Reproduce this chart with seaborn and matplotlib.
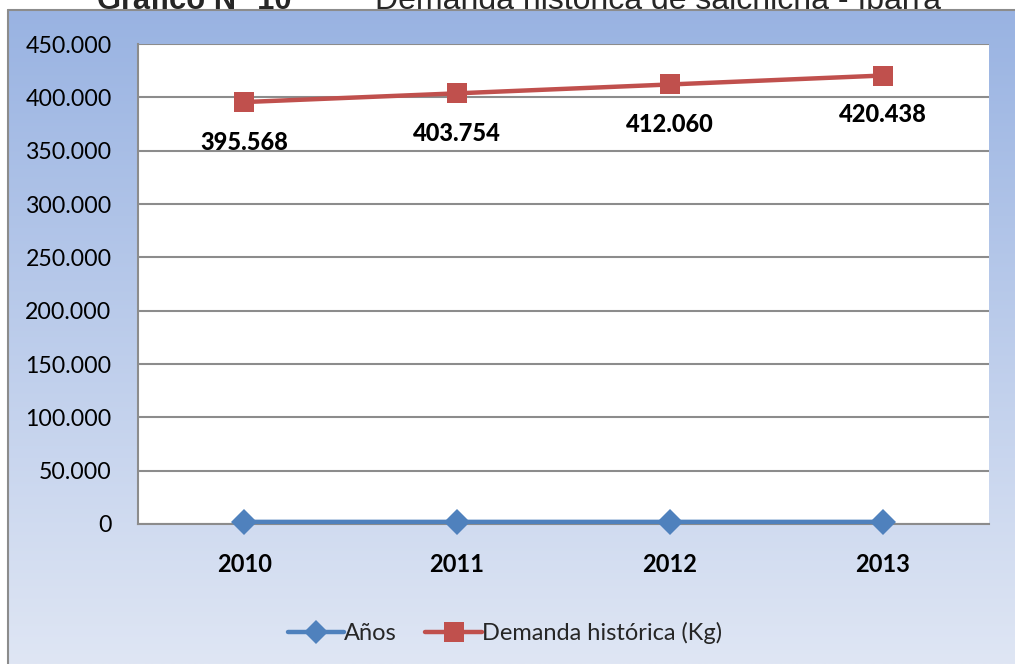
import numpy as np
import pandas as pd
import matplotlib
matplotlib.use("Agg")
import matplotlib.pyplot as plt
from matplotlib.lines import Line2D
import seaborn as sns

# Data
years = ["2010", "2011", "2012", "2013"]
anios = [2010, 2011, 2012, 2013]
demanda = [395568, 403754, 412060, 420438]
demanda_labels = ["395.568", "403.754", "412.060", "420.438"]
y_ticks = [0, 50000, 100000, 150000, 200000, 250000, 300000, 350000, 400000, 450000]
y_ticklabels = ["0", "50.000", "100.000", "150.000", "200.000", "250.000",
                "300.000", "350.000", "400.000", "450.000"]
series_names = ["Años", "Demanda histórica (Kg)"]

df = pd.DataFrame({
    "year": years * 2,
    "value": anios + demanda,
    "serie": [series_names[0]] * 4 + [series_names[1]] * 4,
})

sns.set_theme(style="white")
plt.rcParams["font.family"] = ["Lato", "DejaVu Sans"]

W, H = 1015, 664
fig = plt.figure(figsize=(W / 100, H / 100), dpi=100)
fig.patch.set_facecolor("white")

# Chart frame with vertical blue gradient
frame_left = 8 / W
frame_top = 1 - 10 / H
bg = fig.add_axes([frame_left, 0, 1 - frame_left, frame_top], zorder=0)
top_c = np.array([0x99, 0xB3, 0xE2]) / 255
bot_c = np.array([0xDF, 0xE6, 0xF4]) / 255
t = np.linspace(0, 1, 256)[:, None]
grad = top_c[None, :] * (1 - t) + bot_c[None, :] * t
bg.imshow(grad[:, None, :].repeat(2, axis=1), aspect="auto", extent=[0, 1, 0, 1])
bg.set_axis_off()
fig.add_artist(Line2D([frame_left, frame_left], [0, frame_top], transform=fig.transFigure,
                      color="#8C8C8C", lw=1.5, zorder=1))
fig.add_artist(Line2D([frame_left, 1], [frame_top, frame_top], transform=fig.transFigure,
                      color="#8C8C8C", lw=1.5, zorder=1))

# Plot area
pl, pr, pt, pb = 138, 989, 44, 524
ax = fig.add_axes([pl / W, 1 - pb / H, (pr - pl) / W, (pb - pt) / H], zorder=2)
ax.set_facecolor("white")

palette = {series_names[0]: "#4F81BD", series_names[1]: "#C0504D"}
markers = {series_names[0]: "D", series_names[1]: "s"}
sizes = {series_names[0]: 13, series_names[1]: 15}
for name in series_names:
    sub = df[df["serie"] == name]
    sns.lineplot(data=sub, x="year", y="value", ax=ax, color=palette[name],
                 marker=markers[name], markersize=sizes[name], markeredgewidth=0,
                 linewidth=3.2, sort=False, legend=False, zorder=5, clip_on=False)

ax.set_xlim(-0.5, 3.5)
ax.set_ylim(0, 450000)
ax.set_yticks(y_ticks)
ax.set_yticklabels(y_ticklabels, fontsize=16.7, color="black")
ax.set_xticks(range(len(years)))
ax.set_xticklabels(years, fontsize=17, fontweight="bold", color="black")
ax.tick_params(axis="y", length=0, pad=19)
ax.tick_params(axis="x", length=0, pad=21)
ax.grid(axis="y", color="#8C8C8C", linewidth=1.5)
ax.grid(axis="x", visible=False)
ax.set_axisbelow(True)
ax.set_xlabel("")
ax.set_ylabel("")
for side in ["top", "right"]:
    ax.spines[side].set_visible(False)
for side in ["left", "bottom"]:
    ax.spines[side].set_color("#8C8C8C")
    ax.spines[side].set_linewidth(1.5)

# Data labels under the demand points
offsets = [-29, -29, -29, -28]
for i, (v, lab) in enumerate(zip(demanda, demanda_labels)):
    ax.annotate(lab, (i, v), xytext=(0, offsets[i]), textcoords="offset points",
                ha="center", va="center", fontsize=17, fontweight="black", color="black")

# Legend
handles = [Line2D([0], [0], color=palette[n], lw=3.2, marker=markers[n],
                  markersize=sizes[n] - 1, markeredgewidth=0) for n in series_names]
fig.legend(handles, series_names, loc="center", bbox_to_anchor=(505 / W, 1 - 633 / H),
           ncol=2, frameon=False, fontsize=17, handlelength=2.4, handletextpad=0.0,
           columnspacing=1.2)

# Caption above the chart (partially outside the canvas)
fig.text(97 / W, 1 - 9 / H, "Gráfico N° 10", fontsize=22.2, fontweight="bold",
         family=["Liberation Sans", "DejaVu Sans"], va="baseline", ha="left")
fig.text(375 / W, 1 - 9 / H, "Demanda histórica de salchicha - Ibarra", fontsize=23,
         family=["Liberation Sans", "DejaVu Sans"], va="baseline", ha="left")

fig.savefig("out.png", dpi=100)
